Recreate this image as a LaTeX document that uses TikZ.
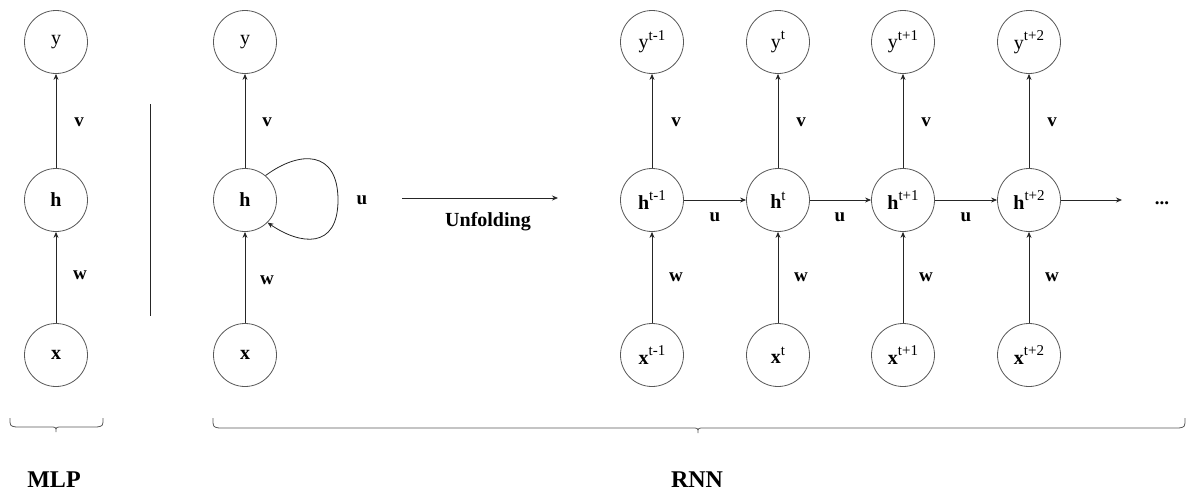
\documentclass[tikz,border=0pt]{standalone}
\usepackage{fontspec}
\setmainfont{Liberation Serif}
\usetikzlibrary{arrows.meta}
\newcommand{\sps}[1]{\raisebox{0.42em}{\fontsize{15}{15}\selectfont #1}}
\begin{document}
\begin{tikzpicture}[x=1pt,y=1pt,
  nd/.style={circle,draw=black!65,line width=0.8pt,minimum size=63pt,inner sep=0pt,font=\fontsize{20}{20}\selectfont},
  conn/.style={draw=black!85,line width=0.8pt,-{Stealth[length=6pt,width=5pt]}},
  lbl/.style={font=\fontsize{19}{19}\selectfont\bfseries,inner sep=0pt},
  big/.style={font=\fontsize{24}{24}\selectfont\bfseries,inner sep=0pt},
  brc/.style={draw=black!65,line width=0.8pt}]
\useasboundingbox (0,0) rectangle (1189,-496);
% MLP
\node[nd] (y0) at (56,-42) {y};
\node[nd] (h0) at (56,-200) {\textbf{h}};
\node[nd] (x0) at (56,-355) {\textbf{x}};
\draw[conn] (x0) -- (h0);
\draw[conn] (h0) -- (y0);
\node[lbl] (v0) at (79,-122) {v};
\node[lbl] (w0) at (80,-275) {w};
% separator
\coordinate (s1) at (150,-104);
\coordinate (s2) at (150,-316);
\draw[black!85,line width=0.8pt] (s1) -- (s2);
% folded RNN
\node[nd] (y1) at (245,-42) {y};
\node[nd] (h1) at (245,-200) {\textbf{h}};
\node[nd] (x1) at (245,-355) {\textbf{x}};
\draw[conn] (x1) -- (h1);
\draw[conn] (h1) -- (y1);
\draw[conn] (h1.50) .. controls (300,-150) and (338,-150) .. (338,-200)
  .. controls (338,-250) and (300,-245) .. (h1.-45);
\node[lbl] (v1) at (267,-122) {v};
\node[lbl] (w1) at (267,-280) {w};
\node[lbl] (u1) at (362,-200) {u};
% unfolding arrow
\coordinate (ua) at (402,-198);
\coordinate (ub) at (558,-198);
\draw[conn] (ua) -- (ub);
\node[lbl] (unf) at (488,-222) {\fontsize{20}{20}\selectfont Unfolding};
% unfolded
\node[nd] (ya) at (652,-42) {y\sps{t-1}};
\node[nd] (yb) at (778,-42) {y\sps{t}};
\node[nd] (yc) at (903,-42) {y\sps{t+1}};
\node[nd] (yd) at (1029,-42) {y\sps{t+2}};
\node[nd] (ha) at (652,-200) {\textbf{h}\sps{t-1}};
\node[nd] (hb) at (778,-200) {\textbf{h}\sps{t}};
\node[nd] (hc) at (903,-200) {\textbf{h}\sps{t+1}};
\node[nd] (hd) at (1029,-200) {\textbf{h}\sps{t+2}};
\node[nd] (xa) at (652,-355) {\textbf{x}\sps{t-1}};
\node[nd] (xb) at (778,-355) {\textbf{x}\sps{t}};
\node[nd] (xc) at (903,-355) {\textbf{x}\sps{t+1}};
\node[nd] (xd) at (1029,-355) {\textbf{x}\sps{t+2}};
\foreach \c in {a,b,c,d}{
  \draw[conn] (x\c) -- (h\c);
  \draw[conn] (h\c) -- (y\c);
}
\draw[conn] (ha) -- (hb);
\draw[conn] (hb) -- (hc);
\draw[conn] (hc) -- (hd);
\coordinate (he) at (1122,-200);
\draw[conn] (hd) -- (he);
\node[lbl] (dots) at (1162,-203) {...};
\foreach \c/\xx in {a/676,b/801,c/926,d/1052}{
  \node[lbl] (v\c) at (\xx,-122) {v};
  \node[lbl] (w\c) at (\xx,-277) {w};
}
\node[lbl] (ua1) at (715,-217) {u};
\node[lbl] (ub1) at (840,-217) {u};
\node[lbl] (uc1) at (966,-217) {u};
% braces
\draw[brc] (10,-418) .. controls (10,-426) .. (16,-427) -- (50,-427)
  .. controls (56,-427) .. (56,-432) .. controls (56,-427) .. (62,-427)
  -- (97,-427) .. controls (103,-426) .. (103,-418);
\draw[brc] (213,-418) .. controls (213,-427) .. (219,-428) -- (692,-428)
  .. controls (698,-428) .. (698,-433) .. controls (698,-428) .. (704,-428)
  -- (1179,-428) .. controls (1185,-427) .. (1185,-418);
\node[big] (mlp) at (54,-480) {MLP};
\node[big] (rnn) at (697,-480) {RNN};
\end{tikzpicture}
\end{document}
